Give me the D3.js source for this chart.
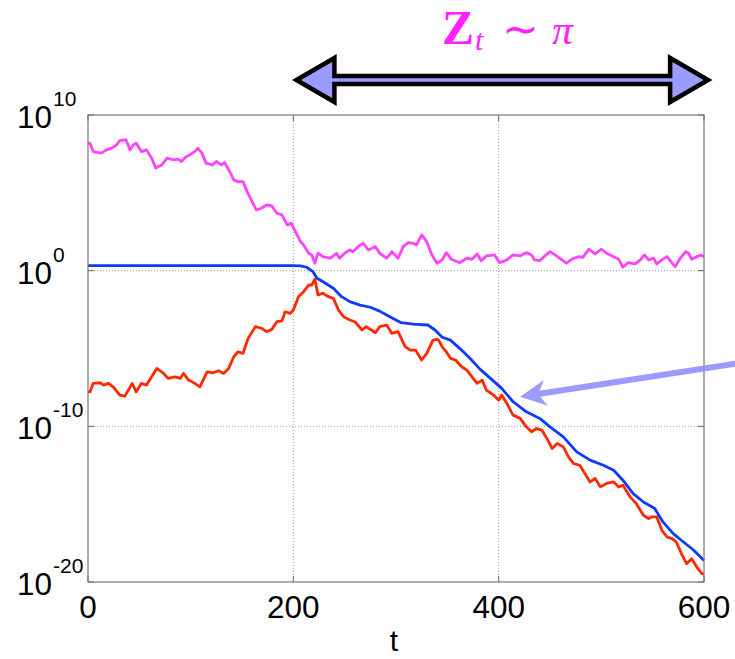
<!DOCTYPE html>
<html>
<head>
<meta charset="utf-8">
<script src="https://cdn.jsdelivr.net/npm/d3@7"></script>
<style>
html,body{margin:0;padding:0;background:#fff;}
svg{display:block;}
</style>
</head>
<body>
<svg id="chart" width="735" height="659"></svg>
<script>
// ---------- data (t, log10 of value) ----------
const pinkT   = [0,2,5,13,18,23,28,31,37,41,44,47,52,57,62,66,72,77,83,88,91,95,99,104,107,111,115,121,125,130,133,138,142,146,151,155,159,164,169,174,179,184,189,194,198,202,207,210,215,218,221,224,229,236,242,245,250,255,258,263,268,273,280,284,291,296,302,307,312,317,320,325,330,335,340,345,349,354,362,369,374,379,383,388,396,401,408,414,421,427,432,435,440,445,450,455,461,466,471,478,482,488,494,500,505,512,517,521,526,533,538,542,546,551,554,559,564,569,572,577,582,585,588,593,597,600];
const pinkLog = [8.19,8.19,7.65,7.55,7.76,7.87,8.08,8.36,8.41,7.76,8.08,8.19,7.65,7.76,7.23,6.59,6.80,7.23,7.12,7.16,7.01,7.29,7.44,7.65,7.87,7.55,6.91,6.80,7.01,6.80,6.95,6.37,5.83,5.72,5.72,5.08,4.55,3.91,4.01,4.23,4.16,3.69,3.58,2.94,3.05,2.51,1.86,1.65,1.12,1.01,0.48,1.12,0.90,0.80,1.12,0.80,1.12,1.33,1.22,1.54,1.76,1.33,1.54,1.12,0.80,1.22,0.80,1.54,1.80,1.76,1.65,2.30,1.86,1.01,0.48,0.69,1.16,0.73,0.51,0.80,0.73,1.07,0.64,0.95,1.01,0.51,0.69,1.01,0.95,1.16,1.01,0.69,0.64,0.95,1.22,1.01,0.73,0.48,0.73,0.90,0.86,1.38,1.07,1.38,1.12,0.90,0.73,0.22,0.51,0.43,0.69,1.01,0.69,0.80,0.43,0.69,0.90,0.48,0.26,0.80,1.22,1.12,0.73,0.90,1.01,0.90];

const blueT   = [0,100,200,207,213,219,223,229,239,247,255,265,275,284,294,305,317,331,338,345,353,362,372,382,392,403,414,427,440,450,463,476,489,502,512,521,531,541,552,560,570,580,590,600];
const blueLog = [0.33,0.33,0.33,0.31,0.22,-0.06,-0.49,-0.71,-1.13,-1.67,-1.99,-2.21,-2.35,-2.60,-2.96,-3.34,-3.43,-3.49,-3.81,-4.28,-4.46,-4.99,-5.63,-6.34,-6.92,-7.56,-8.42,-9.07,-9.49,-10.03,-10.68,-11.64,-12.17,-12.50,-12.82,-13.46,-14.32,-14.86,-15.28,-16.14,-16.89,-17.43,-17.96,-18.62];

const redT   = [0,2,5,12,15,20,25,31,36,43,47,52,57,62,67,73,78,85,90,93,98,104,109,116,122,127,132,137,142,146,151,156,163,169,174,179,184,189,192,197,200,205,210,215,218,221,224,229,234,239,244,249,255,260,267,271,276,280,284,291,296,302,309,314,319,325,330,336,341,345,349,353,358,364,369,374,379,384,388,395,400,403,408,414,421,427,432,437,442,447,452,457,463,468,473,479,484,489,494,499,505,512,517,521,528,534,541,546,549,554,559,564,569,573,578,583,588,593,598,600];
const redLog = [-7.78,-7.78,-7.24,-7.20,-7.35,-7.24,-7.50,-7.99,-8.06,-7.24,-7.78,-7.24,-7.35,-6.82,-6.28,-6.56,-6.92,-6.82,-6.92,-6.60,-7.03,-7.24,-7.46,-6.50,-6.56,-6.43,-6.60,-6.28,-5.53,-5.21,-5.31,-4.35,-3.60,-3.70,-3.92,-3.77,-3.28,-3.22,-2.64,-2.74,-2.53,-1.67,-1.35,-0.92,-0.92,-0.55,-1.56,-1.45,-1.67,-1.78,-2.53,-2.96,-3.17,-3.28,-3.81,-3.60,-3.81,-3.99,-3.60,-3.49,-4.03,-3.92,-4.89,-5.10,-5.10,-5.74,-5.31,-4.46,-4.41,-4.89,-5.21,-5.63,-5.74,-6.17,-6.39,-6.82,-7.24,-7.03,-7.67,-7.99,-8.32,-7.99,-8.53,-9.28,-9.49,-10.03,-10.35,-10.14,-10.24,-10.78,-11.42,-11.10,-11.32,-11.96,-12.39,-12.50,-13.03,-13.57,-13.35,-13.89,-13.67,-13.57,-13.89,-13.78,-14.53,-14.96,-15.71,-15.92,-15.82,-15.82,-16.68,-17.11,-17.21,-17.43,-18.17,-18.82,-18.50,-19.04,-19.46,-19.50];

const xTicks = [0,200,400,600];
const yTickExps = [10,0,-10,-20];
const xGrid = [200,400];
const yGridExps = [0,-10];

// ---------- layout ----------
const svg = d3.select("#chart");
const L = 88, R = 704, T = 115, B = 582;
const x = d3.scaleLinear().domain([0,600]).range([L,R]);
const y = d3.scaleLog().domain([1e-20,1e10]).range([B,T]);

const fontSans = "'Liberation Sans', Arial, Helvetica, sans-serif";
const fontSerif = "'Liberation Serif', 'Times New Roman', serif";

// grid
const g = svg.append("g");
g.selectAll(".gx").data(xGrid).enter().append("line")
  .attr("x1", d=>x(d)).attr("x2", d=>x(d)).attr("y1", T).attr("y2", B)
  .attr("stroke", "#999").attr("stroke-width", 1).attr("stroke-dasharray", "1,2");
g.selectAll(".gy").data(yGridExps).enter().append("line")
  .attr("x1", L).attr("x2", R).attr("y1", d=>y(Math.pow(10,d))).attr("y2", d=>y(Math.pow(10,d)))
  .attr("stroke", "#999").attr("stroke-width", 1).attr("stroke-dasharray", "1,2");

// tick marks (inside, both sides)
const tk = 6;
xTicks.forEach(d=>{
  g.append("line").attr("x1",x(d)).attr("x2",x(d)).attr("y1",B).attr("y2",B-tk).attr("stroke","#666");
  g.append("line").attr("x1",x(d)).attr("x2",x(d)).attr("y1",T).attr("y2",T+tk).attr("stroke","#666");
});
yTickExps.forEach(e=>{
  const yy = y(Math.pow(10,e));
  g.append("line").attr("x1",L).attr("x2",L+tk).attr("y1",yy).attr("y2",yy).attr("stroke","#666");
  g.append("line").attr("x1",R).attr("x2",R-tk).attr("y1",yy).attr("y2",yy).attr("stroke","#666");
});

// series
const line = d3.line().x(d=>x(d[0])).y(d=>y(Math.pow(10,d[1])));
const series = [
  {t: pinkT, v: pinkLog, c: "#ff44ff"},
  {t: redT,  v: redLog,  c: "#ff2a00"},
  {t: blueT, v: blueLog, c: "#0d3bff"}
];
series.forEach(s=>{
  svg.append("path").datum(s.t.map((t,i)=>[t,s.v[i]]))
    .attr("d", line).attr("fill","none").attr("stroke", s.c)
    .attr("stroke-width", 2.8).attr("stroke-linejoin","round");
});

// axes box
svg.append("rect").attr("x",L).attr("y",T).attr("width",R-L).attr("height",B-T)
  .attr("fill","none").attr("stroke","#777").attr("stroke-width",1.2);

// y tick labels
yTickExps.forEach(e=>{
  const yy = y(Math.pow(10,e));
  const t = svg.append("text").attr("x",17).attr("y",yy+13)
    .attr("font-family",fontSans).attr("font-size",31.5).attr("fill","#000");
  t.append("tspan").text("10");
  t.append("tspan").attr("font-size",21).attr("dy",-22).attr("dx",1).text(String(e));
});

// x tick labels
svg.selectAll(".xl").data(xTicks).enter().append("text")
  .attr("x", d=>x(d)).attr("y", 618).attr("text-anchor","middle")
  .attr("font-family",fontSans).attr("font-size",31.5).attr("fill","#000")
  .text(d=>d);
svg.append("text").attr("x", x(300)-2).attr("y", 651).attr("text-anchor","middle")
  .attr("font-family",fontSans).attr("font-size",30).attr("fill","#000").text("t");

// title Z_t ~ pi
const title = svg.append("text").attr("y",44).attr("font-family",fontSerif).attr("fill","#ff22ff");
title.append("tspan").attr("x",442).attr("font-size",48).attr("font-weight","bold").text("Z");
title.append("tspan").attr("x",475).attr("dy",6).attr("font-size",30).attr("font-style","italic").text("t");
title.append("tspan").attr("x",502).attr("dy",-6).attr("font-size",44).text("∼");
title.append("tspan").attr("x",552).attr("font-size",42).attr("font-style","italic").text("π");

// double arrow
const aL = x(203), aR = x(604), ay = 80;
const hw = 38, hh = 22, sh = 4;
const pts = [
  [aL,ay],[aL+hw,ay-hh],[aL+hw,ay-sh],[aR-hw,ay-sh],[aR-hw,ay-hh],[aR,ay],
  [aR-hw,ay+hh],[aR-hw,ay+sh],[aL+hw,ay+sh],[aL+hw,ay+hh]
];
svg.append("polygon").attr("points", pts.map(p=>p.join(",")).join(" "))
  .attr("fill","#9a9cff").attr("stroke","#000").attr("stroke-width",4.5)
  .attr("stroke-linejoin","miter").attr("stroke-miterlimit",10);

// pointer arrow
const tipX = x(421), tipY = y(Math.pow(10,-8.1));
const tail = [740, 363];
const ang = Math.atan2(tail[1]-tipY, tail[0]-tipX);
const ux = Math.cos(ang), uy = Math.sin(ang);
const px = -uy, py = ux;
const headLen = 26, headW = 13, notch = 18;
const ptr = svg.append("g").attr("opacity",0.9);
ptr.append("line").attr("x1",tail[0]).attr("y1",tail[1])
  .attr("x2",tipX+ux*notch).attr("y2",tipY+uy*notch)
  .attr("stroke","#9090ff").attr("stroke-width",6);
ptr.append("polygon").attr("points",[
  [tipX,tipY],
  [tipX+ux*headLen+px*headW, tipY+uy*headLen+py*headW],
  [tipX+ux*notch, tipY+uy*notch],
  [tipX+ux*headLen-px*headW, tipY+uy*headLen-py*headW]
].map(p=>p.join(",")).join(" ")).attr("fill","#9090ff");
</script>
</body>
</html>
